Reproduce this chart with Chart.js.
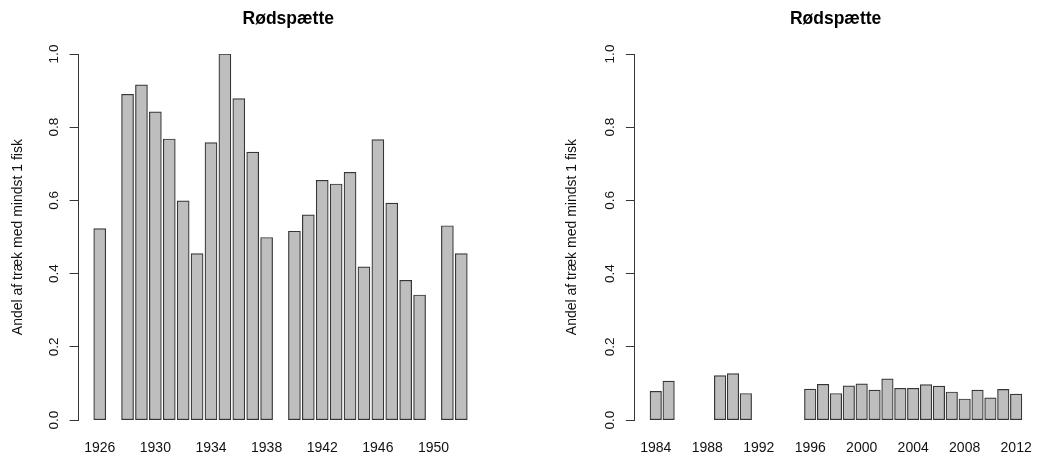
<!DOCTYPE html>
<html>
<head>
<meta charset="utf-8">
<script src="https://cdn.jsdelivr.net/npm/chart.js@4.4.1/dist/chart.umd.min.js"></script>
<style>
  body{margin:0;background:#fff;}
  .panel{position:absolute;top:0;width:526px;height:458px;overflow:hidden;}
</style>
</head>
<body>
<div class="panel" style="left:0"><canvas id="venstre" width="526" height="458"></canvas></div>
<div class="panel" style="left:526px"><canvas id="hoejre" width="526" height="458"></canvas></div>
<script>
'use strict'

// aar og andel, null = ingen data det aar
const aarGammel = [1926,1927,1928,1929,1930,1931,1932,1933,1934,1935,1936,1937,1938,1939,
  1940,1941,1942,1943,1944,1945,1946,1947,1948,1949,1950,1951,1952]
const andelGammel = [0.523,null,0.890,0.916,0.842,0.768,0.599,0.455,0.758,1.000,0.878,0.732,0.499,null,
  0.516,0.561,0.655,0.645,0.677,0.419,0.766,0.593,0.382,0.342,null,0.531,0.455]
const tickGammel = [1926,1930,1934,1938,1942,1946,1950]

const aarNy = [1984,1985,1986,1987,1988,1989,1990,1991,1992,1993,1994,1995,1996,1997,1998,1999,
  2000,2001,2002,2003,2004,2005,2006,2007,2008,2009,2010,2011,2012]
const andelNy = [0.079,0.107,null,null,null,0.122,0.127,0.073,null,null,null,null,0.085,0.098,0.073,0.094,
  0.099,0.082,0.113,0.087,0.087,0.097,0.093,0.077,0.058,0.082,0.061,0.084,0.071]
const tickNy = [1984,1988,1992,1996,2000,2004,2008,2012]

const yTicks = [0, 0.2, 0.4, 0.6, 0.8, 1.0]
const titel = 'Rødspætte'
const yTitel = 'Andel af træk med mindst 1 fisk'

const skrift = 'Liberation Sans'
const linje = '#363636'

const lavGraf = (id, aar, andel, tickAar, o) => {
  const punkter = aar.map((a, i) => ({x: a, y: andel[i]}))
  return new Chart(document.getElementById(id), {
    type: 'bar',
    data: {
      datasets: [{
        data: punkter,
        backgroundColor: '#bebebe',
        borderColor: linje,
        borderWidth: 1.2,
        borderSkipped: false,
        barThickness: o.bar
      }]
    },
    options: {
      responsive: false,
      animation: false,
      // ticks.padding taeller dobbelt i hoejden, derfor negativ bund
      layout: {padding: {left: o.padL, right: o.padR, top: 0, bottom: -18}},
      plugins: {
        legend: {display: false},
        tooltip: {enabled: false},
        title: {
          display: true,
          text: titel,
          fullSize: false,
          color: '#000',
          font: {family: skrift, size: 17.5, weight: 'bold'},
          padding: {top: 8.6, bottom: 24.4}
        }
      },
      scales: {
        x: {
          type: 'linear',
          offset: false,
          min: o.xMin,
          max: o.xMax,
          grid: {display: false, drawTicks: false},
          border: {display: false},
          afterBuildTicks: (skala) => { skala.ticks = tickAar.map(v => ({value: v})) },
          ticks: {
            autoSkip: false,
            maxRotation: 0,
            padding: 19.5,
            color: '#111',
            font: {family: skrift, size: 14},
            callback: v => String(v)
          }
        },
        y: {
          min: 0,
          max: 1,
          afterBuildTicks: (skala) => { skala.ticks = yTicks.map(v => ({value: v})) },
          grid: {drawOnChartArea: false, drawTicks: true, tickLength: 9, color: linje},
          border: {display: true, color: linje, width: 1},
          ticks: {
            minRotation: 90,
            maxRotation: 90,
            crossAlign: 'center',
            padding: 6,
            color: '#111',
            font: {family: skrift, size: 13.5},
            callback: v => v.toFixed(1)
          },
          title: {
            display: true,
            text: yTitel,
            color: '#111',
            font: {family: skrift, size: 14},
            padding: {top: 0, bottom: o.titPad}
          }
        }
      }
    }
  })
}

lavGraf('venstre', aarGammel, andelGammel, tickGammel,
  {xMin: 1924.48, xMax: 1954.64, padL: 9.6, padR: 28, titPad: 15, bar: 12})
lavGraf('hoejre', aarNy, andelNy, tickNy,
  {xMin: 1982.38, xMax: 2013.57, padL: 37.6, padR: 0, titPad: 17.3, bar: 11.5})
</script>
</body>
</html>
